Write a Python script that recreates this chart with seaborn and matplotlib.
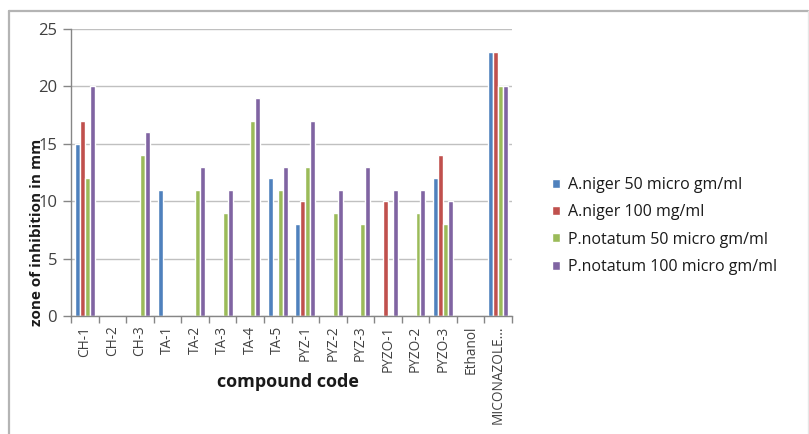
import matplotlib
matplotlib.use("Agg")
import matplotlib.pyplot as plt
from matplotlib.lines import Line2D
import seaborn as sns
import pandas as pd

# Zone of inhibition (mm) per compound for each fungus / concentration
compounds = ["CH-1", "CH-2", "CH-3", "TA-1", "TA-2", "TA-3", "TA-4", "TA-5",
             "PYZ-1", "PYZ-2", "PYZ-3", "PYZO-1", "PYZO-2", "PYZO-3",
             "Ethanol", "MICONAZOLE..."]
series_names = ["A.niger 50 micro gm/ml", "A.niger 100 mg/ml",
                "P.notatum 50 micro gm/ml", "P.notatum 100 micro gm/ml"]
a_niger_50 = [15, 0, 0, 11, 0, 0, 0, 12, 8, 0, 0, 0, 0, 12, 0, 23]
a_niger_100 = [17, 0, 0, 0, 0, 0, 0, 0, 10, 0, 0, 10, 0, 14, 0, 23]
p_notatum_50 = [12, 0, 14, 0, 11, 9, 17, 11, 13, 9, 8, 0, 9, 8, 0, 20]
p_notatum_100 = [20, 0, 16, 0, 13, 11, 19, 13, 17, 11, 13, 11, 11, 10, 0, 20]
y_ticks = [0, 5, 10, 15, 20, 25]

colors = ["#4F81BD", "#C0504D", "#9BBB59", "#8064A2"]

rows = []
for name, vals in zip(series_names,
                      [a_niger_50, a_niger_100, p_notatum_50, p_notatum_100]):
    for c, v in zip(compounds, vals):
        rows.append({"compound": c, "series": name, "zone": v})
df = pd.DataFrame(rows)

sns.set_style("white")
plt.rcParams["font.family"] = ["Open Sans", "DejaVu Sans"]

W, H = 809, 434
fig = plt.figure(figsize=(W / 100, H / 100), dpi=100)
ax = fig.add_axes([71 / W, 1 - 316 / H, (512 - 71) / W, (316 - 29) / H])

sns.barplot(data=df, x="compound", y="zone", hue="series", order=compounds,
            hue_order=series_names, palette=colors, width=0.72,
            saturation=1, errorbar=None, ax=ax, legend=True)

ax.set_xlim(-0.5, len(compounds) - 0.5)
ax.set_ylim(0, 25)
ax.set_yticks(y_ticks)
ax.set_yticklabels([str(t) for t in y_ticks], fontsize=12, color="#404040")
ax.yaxis.grid(True, color="#c0c0c0", linewidth=1.0)
ax.set_axisbelow(True)

# category ticks sit on the boundaries between groups
ax.set_xticks(range(len(compounds)))
ax.set_xticklabels(compounds, rotation=90, fontsize=9.8, color="#404040")
ax.set_xticks([i - 0.5 for i in range(len(compounds) + 1)], minor=True)
ax.tick_params(axis="x", which="major", length=0, pad=7)
ax.tick_params(axis="x", which="minor", length=5, color="#868686",
               width=1, direction="out", bottom=True)
ax.tick_params(axis="y", length=6, color="#868686", width=1,
               direction="out", left=True, pad=4)

for side in ["top", "right"]:
    ax.spines[side].set_visible(False)
for side in ["left", "bottom"]:
    ax.spines[side].set_color("#868686")
    ax.spines[side].set_linewidth(1)

ax.set_xlabel("")
ax.set_ylabel("")

fig.text(37 / W, 1 - 232 / H, "zone of inhibition in mm", rotation=90,
         ha="center", va="center", fontsize=11, fontweight="bold",
         color="#1a1a1a")
fig.text(288 / W, 1 - 382 / H, "compound code", ha="center", va="center",
         fontsize=13, fontweight="bold", color="#1a1a1a")

handles, labels = ax.get_legend_handles_labels()
ax.legend(handles, labels, loc="center left",
          bbox_to_anchor=(538 / W, 1 - 226 / H), bbox_transform=fig.transFigure,
          frameon=False, fontsize=11.5, handlelength=0.5, handleheight=0.5,
          handletextpad=0.45, labelspacing=0.7, labelcolor="#1a1a1a")

# chart-area frame
frame_kw = dict(color="#b4b4b4", linewidth=1.6, transform=None)
fig.add_artist(Line2D([9, 808], [H - 11, H - 11], **frame_kw))
fig.add_artist(Line2D([9, 9], [0, H - 11], **frame_kw))
fig.add_artist(Line2D([807.5, 807.5], [0, H - 11], color="#e6e6e6",
                      linewidth=1, transform=None))

fig.savefig("out.png", dpi=100)
